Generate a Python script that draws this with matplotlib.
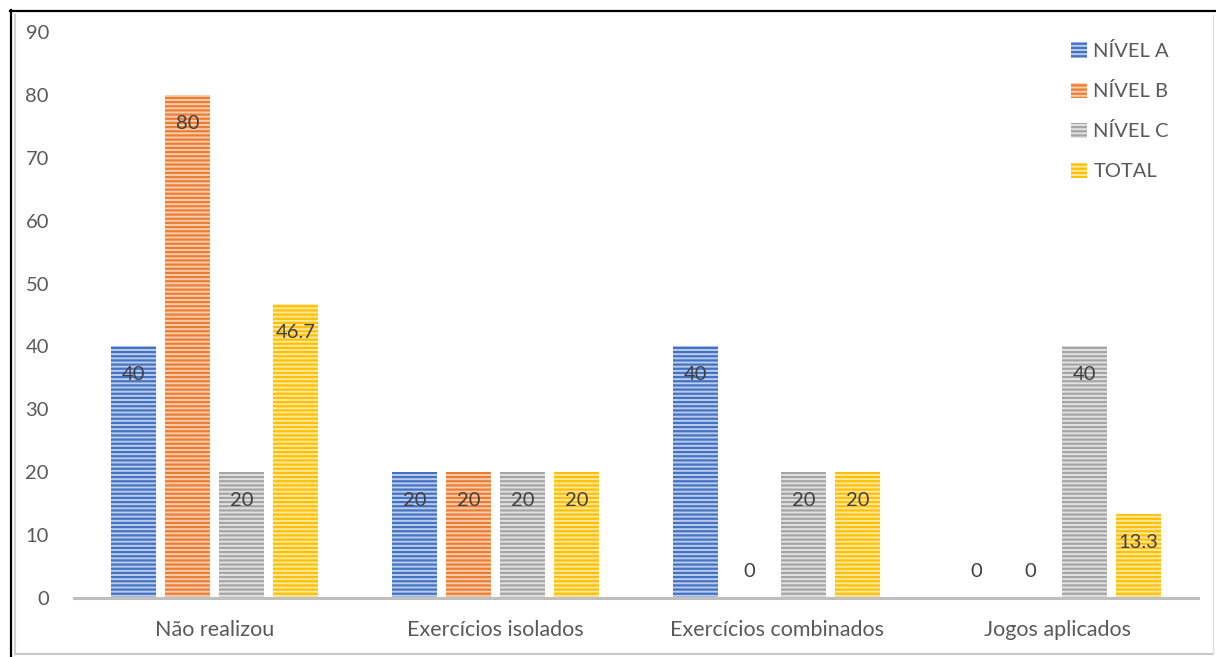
import matplotlib.pyplot as plt
import numpy as np
from matplotlib.lines import Line2D

plt.rcParams["font.family"] = ["Lato", "DejaVu Sans"]
plt.rcParams["hatch.linewidth"] = 1.6

categories = ["Não realizou", "Exercícios isolados", "Exercícios combinados", "Jogos aplicados"]
series = ["NÍVEL A", "NÍVEL B", "NÍVEL C", "TOTAL"]
nivel_a = [40, 20, 40, 0]
nivel_b = [80, 20, 0, 0]
nivel_c = [20, 20, 20, 40]
total = [46.7, 20, 20, 13.3]
labels = [["40", "20", "40", "0"],
          ["80", "20", "0", "0"],
          ["20", "20", "20", "40"],
          ["46.7", "20", "20", "13.3"]]

dark = ["#4472C4", "#ED7D31", "#A5A5A5", "#FFC000"]
light = ["#BCCDEB", "#F8CDAF", "#E2E2E2", "#FFE8A0"]
text_col = "#595959"
fs = 14.5

W, H = 1216, 657
fig = plt.figure(figsize=(W / 100, H / 100), dpi=100)
ax = fig.add_axes([74 / W, 1 - 598 / H, (1198 - 74) / W, (598 - 32) / H])

x = np.arange(len(categories))
width = 0.16
step = 0.192
for k, (vals, name) in enumerate(zip([nivel_a, nivel_b, nivel_c, total], series)):
    pos = x + (k - 1.5) * step
    ax.bar(pos, vals, width, facecolor=light[k], edgecolor=dark[k],
           hatch="----", linewidth=0, label=name)
    for px, v, lab in zip(pos, vals, labels[k]):
        dy = -20.5 if v > 0 else 19
        ax.annotate(lab, (px, v), xytext=(0, dy), textcoords="offset points",
                    ha="center", va="center", fontsize=fs, color="#404040")

ax.set_xlim(-0.5, 3.5)
ax.set_ylim(0, 90)
ax.set_yticks(range(0, 91, 10))
ax.set_xticks(x)
ax.set_xticklabels(categories)
ax.tick_params(axis="y", length=0, pad=18, labelsize=fs, labelcolor=text_col)
ax.tick_params(axis="x", length=0, pad=16, labelsize=15.5, labelcolor=text_col)
for s in ["top", "right", "left"]:
    ax.spines[s].set_visible(False)
ax.spines["bottom"].set_color("#BFBFBF")
ax.spines["bottom"].set_linewidth(2.2)

handles = [plt.Rectangle((0, 0), 1, 1, facecolor=light[k], edgecolor=dark[k],
                         hatch="----", linewidth=0) for k in range(4)]
fig.legend(handles, series, loc="upper left", bbox_to_anchor=(1053 / W, 1 - 24 / H),
           frameon=False, fontsize=fs, labelcolor=text_col, handlelength=0.8,
           handleheight=0.8, handletextpad=0.3, labelspacing=1.1)

# frame round the whole chart
fig.add_artist(Line2D([10.5 / W, 10.5 / W], [0, 1 - 10 / H], color="black", lw=1.6))
fig.add_artist(Line2D([10 / W, 1], [1 - 10.5 / H, 1 - 10.5 / H], color="black", lw=1.6))
fig.add_artist(Line2D([15 / W, 15 / W], [3 / H, 1 - 15 / H], color="#D0D0D0", lw=1.5))
fig.add_artist(Line2D([15 / W, 1213 / W], [3 / H, 3 / H], color="#C8C8C8", lw=1.5))
fig.add_artist(Line2D([1213 / W, 1213 / W], [3 / H, 1 - 15 / H], color="#E0E0E0", lw=1.0))

fig.savefig("out.png", dpi=100)
